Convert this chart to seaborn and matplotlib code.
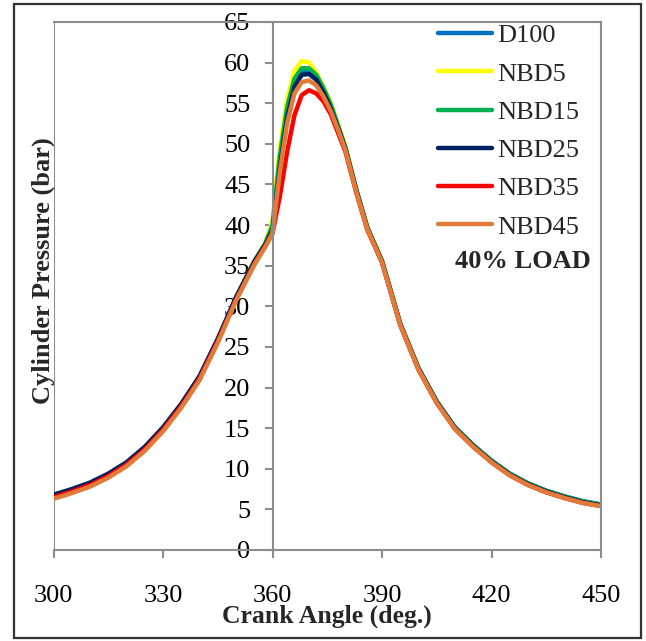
import matplotlib
matplotlib.use("Agg")
import matplotlib.pyplot as plt
import seaborn as sns
import pandas as pd
from matplotlib.patches import Rectangle

# ---- data ----
crank_angle = [300, 305, 310, 315, 320, 325, 330, 335, 340, 345, 350, 355, 358, 360,
               362, 364, 366, 368, 370, 372, 374, 376, 378, 380, 383, 386, 390, 395,
               400, 405, 410, 415, 420, 425, 430, 435, 440, 445, 450]

d100 = [6.7, 7.4, 8.2, 9.3, 10.7, 12.6, 15.0, 17.9, 21.3, 25.9, 31.0, 35.4, 37.5, 39.5,
        47.5, 53.8, 57.5, 58.9, 59.0, 58.2, 56.5, 54.5, 52.0, 49.4, 44.2, 39.6, 35.6, 27.8,
        22.4, 18.3, 15.1, 12.9, 11.0, 9.4, 8.2, 7.3, 6.6, 6.0, 5.6]
nbd5 = [6.6, 7.3, 8.1, 9.2, 10.6, 12.5, 14.9, 17.8, 21.2, 25.8, 31.0, 35.5, 37.8, 40.5,
        49.5, 55.5, 59.0, 60.2, 60.0, 58.8, 57.0, 55.0, 52.3, 49.6, 44.3, 39.7, 35.6, 27.8,
        22.3, 18.2, 15.0, 12.8, 10.9, 9.3, 8.1, 7.2, 6.5, 5.9, 5.5]
nbd15 = [6.8, 7.4, 8.2, 9.3, 10.7, 12.6, 15.0, 17.9, 21.3, 25.9, 31.1, 35.5, 37.7, 40.0,
         48.5, 54.5, 58.0, 59.3, 59.3, 58.5, 56.8, 54.8, 52.2, 49.5, 44.3, 39.7, 35.6, 27.9,
         22.4, 18.3, 15.1, 12.9, 11.0, 9.4, 8.2, 7.3, 6.6, 6.0, 5.6]
nbd25 = [6.8, 7.5, 8.3, 9.4, 10.8, 12.7, 15.1, 18.0, 21.4, 26.0, 31.1, 35.5, 37.6, 39.3,
         47.0, 53.2, 57.0, 58.5, 58.6, 57.9, 56.3, 54.3, 51.9, 49.4, 44.2, 39.6, 35.5, 27.8,
         22.3, 18.2, 15.0, 12.8, 10.9, 9.3, 8.1, 7.2, 6.5, 5.9, 5.5]
nbd35 = [6.5, 7.2, 8.0, 9.1, 10.5, 12.4, 14.8, 17.7, 21.1, 25.7, 30.8, 35.2, 37.4, 39.0,
         43.5, 49.0, 53.5, 56.0, 56.6, 56.2, 55.2, 53.6, 51.3, 49.0, 43.9, 39.4, 35.4, 27.7,
         22.2, 18.1, 14.9, 12.7, 10.8, 9.2, 8.0, 7.1, 6.4, 5.8, 5.4]
nbd45 = [6.3, 7.0, 7.8, 8.9, 10.3, 12.2, 14.6, 17.5, 20.9, 25.5, 30.7, 35.1, 37.3, 39.0,
         46.5, 52.5, 56.2, 57.6, 57.8, 57.2, 55.8, 54.0, 51.7, 49.2, 44.0, 39.5, 35.4, 27.7,
         22.2, 18.1, 14.9, 12.7, 10.8, 9.2, 8.0, 7.1, 6.4, 5.8, 5.4]

series_names = ["D100", "NBD5", "NBD15", "NBD25", "NBD35", "NBD45"]
series_values = [d100, nbd5, nbd15, nbd25, nbd35, nbd45]
colors = ["#0070C0", "#FFFF00", "#00B050", "#002060", "#FF0000", "#E07B39"]

x_ticks = [300, 330, 360, 390, 420, 450]
y_ticks = list(range(0, 66, 5))

rows = []
for name, vals in zip(series_names, series_values):
    for a, p in zip(crank_angle, vals):
        rows.append({"Crank Angle": a, "Pressure": p, "Fuel": name})
df = pd.DataFrame(rows)

# ---- style ----
sns.set_style("white")
plt.rcParams["font.family"] = ["Liberation Serif", "DejaVu Serif"]

W, H = 646, 641
fig = plt.figure(figsize=(W / 100, H / 100), dpi=100)
ax_left, ax_right, ax_top, ax_bottom = 53.5, 601, 22, 550
ax = fig.add_axes([ax_left / W, 1 - ax_bottom / H, (ax_right - ax_left) / W, (ax_bottom - ax_top) / H])

sns.lineplot(data=df, x="Crank Angle", y="Pressure", hue="Fuel", hue_order=series_names,
             palette=colors, linewidth=3.2, ax=ax, legend=True, sort=True)

ax.set_xlim(300, 450)
ax.set_ylim(0, 65)
ax.set_xticks(x_ticks)
ax.set_yticks(y_ticks)

spine_c = "#8C8C8C"
for s in ["top", "right", "bottom", "left"]:
    ax.spines[s].set_visible(True)
    ax.spines[s].set_color(spine_c)
    ax.spines[s].set_linewidth(1.5)
ax.spines["left"].set_position(("data", 360))
ax.axvline(300, color=spine_c, lw=1.5, zorder=0)

ax.tick_params(axis="x", direction="out", length=6, width=1.5, color=spine_c,
               pad=19, labelsize=19, labelcolor="black", bottom=True)
ax.tick_params(axis="y", direction="out", length=6, width=1.5, color=spine_c,
               pad=10, labelsize=19, labelcolor="black", left=True)

ax.set_xlabel("Crank Angle (deg.)", fontsize=18.5, fontweight="bold")
ax.set_ylabel("Cylinder Pressure (bar)", fontsize=19, fontweight="bold")
ax.xaxis.set_label_coords(0.5, (ax_bottom - 605) / (ax_bottom - ax_top))
ax.yaxis.set_label_coords((55 - ax_left) / (ax_right - ax_left), (ax_bottom - 271) / (ax_bottom - ax_top))

handles, labels = ax.get_legend_handles_labels()
leg = ax.legend(handles, labels, loc="upper left", bbox_to_anchor=(438 / W, 1 - 24 / H),
                bbox_transform=fig.transFigure, frameon=False, fontsize=19,
                handlelength=2.05, handletextpad=0.2, labelspacing=0.56, borderpad=0,
                borderaxespad=0)
for h in leg.legend_handles:
    h.set_linewidth(3.2)

fig.text(455 / W, 1 - 262 / H, "40% LOAD", fontsize=19, fontweight="bold",
         ha="left", va="center")

fig.patches.append(Rectangle((14 / W, 1 - 638 / H), (641 - 14) / W, (638 - 4) / H,
                             transform=fig.transFigure, fill=False, edgecolor="#333333",
                             linewidth=1.6, zorder=10))

fig.savefig("out.png", dpi=100)
